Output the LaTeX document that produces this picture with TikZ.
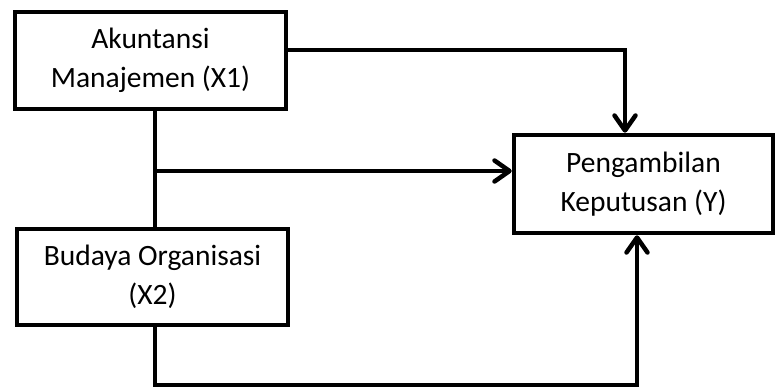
\documentclass[tikz,border=0pt]{standalone}
\usepackage{fontspec}
\setmainfont{Carlito}
\usetikzlibrary{arrows.meta}
\begin{document}
\begin{tikzpicture}[x=1pt,y=-1pt,
  box/.style={draw=black,line width=4.5pt,fill=white,inner sep=0pt,align=center,
    font=\fontsize{29.5}{38.5}\selectfont},
  conn/.style={draw=black,line width=4.5pt},
  arr/.style={conn,-{Straight Barb[length=15pt,width=21pt,round]}}]
\useasboundingbox (0,0) rectangle (775,387);
\begin{scope}
\clip (0,0) rectangle (775,387);
\node[box,minimum width=271pt,minimum height=97pt] (x1) at (150.5,60.5) {Akuntansi\\Manajemen (X1)};
\node[box,minimum width=271pt,minimum height=96pt] (x2) at (152.5,277) {Budaya Organisasi\\(X2)};
\node[box,minimum width=259pt,minimum height=98pt] (y) at (643.5,184) {Pengambilan\\Keputusan (Y)};
\coordinate (c1) at (625,50);
\coordinate (c2) at (155,171);
\coordinate (c3) at (155,385);
\coordinate (c4) at (637,385);
\draw[arr] (x1.east |- c1) -- (c1) -- (y.north -| c1);
\draw[conn] (x1.south -| c2) -- (x2.north -| c2);
\draw[arr] (c2) -- (y.west |- c2);
\draw[arr] (x2.south -| c3) -- (c3) -- (c4) -- (y.south -| c4);
\end{scope}
\end{tikzpicture}
\end{document}
